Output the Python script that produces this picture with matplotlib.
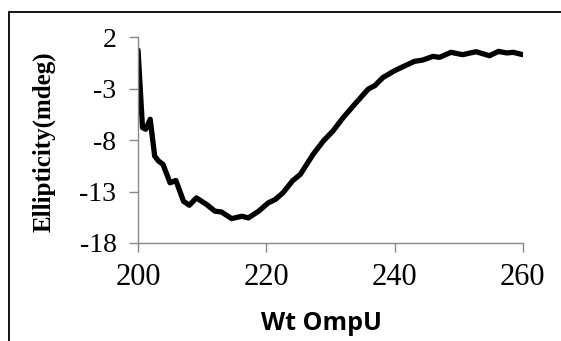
import matplotlib
matplotlib.use("Agg")
import matplotlib.pyplot as plt
from matplotlib.patches import Rectangle

plt.rcParams["axes.unicode_minus"] = False

# CD spectrum
wavelength = [200.0, 200.7, 201.2, 201.9, 202.6, 203.2, 203.9, 205.0, 205.9, 207.1,
              208.0, 209.1, 210.7, 212.0, 213.0, 214.6, 216.2, 217.2, 218.8, 220.3,
              221.4, 222.6, 224.1, 225.3, 227.3, 228.9, 230.4, 232.0, 233.8, 235.9,
              236.9, 238.2, 240.0, 241.3, 243.1, 244.4, 246.0, 247.0, 248.8, 250.6,
              252.7, 254.8, 256.2, 257.5, 258.5, 260.0]
ellipticity = [0.76, -6.78, -6.94, -5.97, -9.55, -10.03, -10.36, -12.15, -11.92, -13.94,
               -14.33, -13.61, -14.26, -14.91, -14.98, -15.63, -15.40, -15.56, -14.91, -14.10,
               -13.77, -13.12, -11.95, -11.33, -9.38, -8.08, -7.10, -5.80, -4.50, -3.03,
               -2.71, -1.90, -1.25, -0.86, -0.34, -0.21, 0.15, 0.05, 0.54, 0.31,
               0.60, 0.21, 0.63, 0.48, 0.54, 0.31]
xticks = [200, 220, 240, 260]
yticks = [2, -3, -8, -13, -18]

fig = plt.figure(figsize=(5.61, 3.41), dpi=100)
ax = fig.add_axes([0.246, 0.2874, 0.686, 0.6032])

ax.plot(wavelength, ellipticity, color="black", linewidth=3.8,
        solid_joinstyle="round", solid_capstyle="round")
ax.set_xlim(200, 260)
ax.set_ylim(-18, 2)
ax.set_xticks(xticks)
ax.set_yticks(yticks)

grey = "#898989"
for s in ["top", "right"]:
    ax.spines[s].set_visible(False)
for s in ["left", "bottom"]:
    ax.spines[s].set_color(grey)
    ax.spines[s].set_linewidth(1.0)
ax.tick_params(axis="both", direction="out", color=grey, length=6.5, width=1.0)
ax.tick_params(axis="x", pad=8)
ax.tick_params(axis="y", pad=9)
for lab in ax.get_xticklabels():
    lab.set_fontfamily("Liberation Serif")
    lab.set_fontsize(22)
for lab in ax.get_yticklabels():
    lab.set_fontfamily("Liberation Serif")
    lab.set_fontsize(20)

fig.text(44 / 561, 1 - 142 / 341, "Ellipticity(mdeg)", rotation=90, ha="center", va="center",
         fontfamily="Liberation Serif", fontweight="bold", fontsize=18)
fig.text(321 / 561, 1 - 324 / 341, "Wt OmpU", ha="center", va="center",
         fontfamily="Open Sans", fontweight="bold", fontsize=18)

# chart border (only left and top edges fall inside the picture)
fig.patches.append(Rectangle((9.3 / 561, -0.2), 1.5, 1.2 - 11.7 / 341,
                             transform=fig.transFigure, fill=False,
                             edgecolor="black", linewidth=1.3))

fig.savefig("out.png", dpi=100)
